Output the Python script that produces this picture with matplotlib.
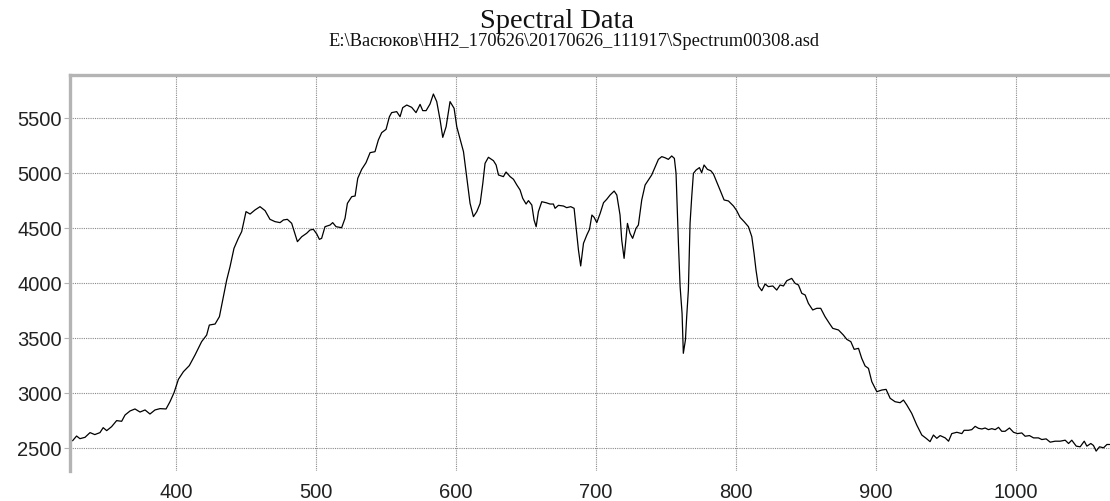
import matplotlib
matplotlib.use("Agg")
import matplotlib.pyplot as plt
import numpy as np

title = "Spectral Data"
subtitle = "E:\\Васюков\\HH2_170626\\20170626_111917\\Spectrum00308.asd"

wavelength = [
    326.2, 329.0, 331.4, 335.0, 338.6, 342.0, 345.7, 348.0, 350.5, 354.0,
    357.6, 361.2, 363.6, 367.2, 370.7, 374.3, 377.9, 381.4, 385.0, 388.6,
    392.9, 395.7, 398.6, 401.7, 405.3, 409.5, 413.6, 418.3, 421.9, 423.8,
    427.9, 431.0, 433.8, 436.2, 438.6, 441.4, 444.5, 446.9, 450.0, 452.9,
    456.4,
    460.0, 463.6, 467.1, 470.7, 474.3, 476.7, 479.5, 482.6, 484.5, 486.7,
    489.8, 493.3, 495.7, 498.1, 500.5, 502.4, 504.0, 506.4, 510.0, 511.9,
    514.3, 518.3, 520.7, 522.4, 525.5, 527.9, 529.8, 532.6, 535.7, 538.6,
    542.1, 544.5, 546.9, 550.0, 552.4, 554.0, 557.6, 560.0, 561.9, 564.8,
    568.3, 571.4, 574.3, 576.2, 578.6, 581.4, 583.8, 586.2,
    588.6, 590.5, 592.9, 595.7, 598.6, 600.5, 603.4, 605.3, 607.6, 610.0,
    612.4, 614.8, 617.2, 619.1, 620.7, 623.1, 626.7, 628.6, 630.3, 633.8,
    635.7, 638.6, 641.0, 643.4, 645.7, 647.6, 650.0, 651.7, 654.1, 655.7,
    657.2, 658.8, 661.2, 664.3, 667.1, 669.5, 670.7, 673.1, 676.7, 679.0,
    681.9, 684.3, 685.7, 687.4, 689.0, 691.0, 693.4, 695.3, 697.0, 698.6,
    700.5, 702.9, 705.3, 707.6, 710.0, 712.9, 714.8,
    717.1, 718.3, 720.0, 722.4, 724.2, 726.1, 728.5, 730.2, 732.6, 735.0,
    737.3, 739.7, 742.1, 744.5, 746.9, 749.2, 751.6, 754.0, 755.9, 757.1,
    758.8, 760.0, 761.4, 762.3, 763.8, 764.7, 765.9, 767.1, 768.3, 769.5,
    771.4, 773.8, 775.4, 777.1, 779.5, 781.9, 783.8, 786.1, 788.5, 791.4,
    794.5, 798.1, 800.4, 802.8, 805.7, 808.8, 811.2, 812.8, 814.2, 815.9,
    818.3, 820.7, 823.0, 826.2, 829.0,
    831.4, 833.8, 836.2, 839.7, 842.1, 844.5, 846.9, 849.3, 851.6, 854.7,
    857.6, 860.4, 863.5, 866.6, 869.0, 873.1, 876.6, 879.0, 881.9, 884.3,
    887.4, 889.7, 892.1, 894.5, 896.9, 900.5, 904.0, 907.1, 910.0, 913.5,
    917.1, 919.5, 921.9, 925.4, 929.0, 932.6, 935.7, 938.5, 940.9, 943.3,
    945.7, 949.3, 951.7, 954.0, 957.6, 961.2, 962.8, 965.9, 968.3, 970.7,
    973.1, 975.5, 977.8, 980.2, 982.6, 985.0, 987.4, 989.7, 992.1, 995.2,
    998.1, 1000.9, 1004.0, 1006.4, 1009.5, 1012.4, 1015.9, 1018.3, 1021.4, 1024.3,
    1027.8, 1031.4, 1035.0, 1037.4, 1039.7, 1042.9, 1045.7, 1048.6, 1050.5, 1053.3,
    1055.2, 1057.1, 1059.5, 1062.4, 1064.8, 1067.1,
]

signal = [
    2570, 2612, 2588, 2600, 2643, 2625, 2643, 2688, 2661, 2697,
    2752, 2746, 2803, 2840, 2858, 2830, 2849, 2812, 2849, 2861,
    2858, 2924, 3006, 3127, 3197, 3252, 3349, 3470, 3530, 3621,
    3630, 3697, 3879, 4030, 4152, 4318, 4409, 4470, 4652, 4630,
    4667,
    4697, 4661, 4582, 4561, 4552, 4576, 4582, 4546, 4470, 4379,
    4424, 4455, 4485, 4491, 4449, 4400, 4409, 4515, 4530, 4552,
    4515, 4506, 4591, 4727, 4788, 4794, 4955, 5036, 5097, 5188,
    5197, 5303, 5370, 5400, 5515, 5552, 5561, 5515, 5597, 5621,
    5600, 5552, 5627, 5570, 5570, 5630, 5721, 5652,
    5485, 5327, 5424, 5652, 5591, 5424, 5288, 5197, 4970, 4727,
    4606, 4652, 4727, 4909, 5091, 5146, 5115, 5076, 4985, 4970,
    5012, 4970, 4946, 4894, 4849, 4773, 4721, 4752, 4712, 4576,
    4515, 4652, 4742, 4733, 4721, 4721, 4682, 4709, 4703, 4688,
    4697, 4682, 4515, 4303, 4158, 4364, 4440, 4491, 4621, 4600,
    4552, 4636, 4733, 4764, 4803, 4839, 4803,
    4621, 4394, 4227, 4545, 4455, 4409, 4500, 4530, 4758, 4894,
    4939, 4985, 5055, 5127, 5152, 5142, 5127, 5158, 5136, 5000,
    4364, 3970, 3727, 3364, 3485, 3697, 3939, 4545, 4788, 5000,
    5030, 5052, 5006, 5076, 5036, 5024, 4994, 4924, 4849, 4758,
    4749, 4703, 4661, 4600, 4561, 4515, 4424, 4273, 4121, 3976,
    3933, 3994, 3970, 3976, 3939,
    3985, 3976, 4024, 4045, 4000, 3985, 3909, 3894, 3818, 3758,
    3773, 3773, 3697, 3636, 3591, 3576, 3530, 3491, 3470, 3400,
    3409, 3318, 3249, 3227, 3106, 3015, 3030, 3036, 2955, 2924,
    2915, 2939, 2894, 2818, 2712, 2621, 2591, 2561, 2621, 2591,
    2616, 2595, 2565, 2634, 2646, 2634, 2664, 2664, 2670, 2700,
    2682, 2676, 2685, 2670, 2679, 2670, 2691, 2655, 2655, 2685,
    2646, 2634, 2640, 2610, 2616, 2595, 2595, 2580, 2586, 2556,
    2565, 2565, 2574, 2544, 2574, 2520, 2514, 2565, 2520, 2544,
    2526, 2475, 2514, 2505, 2535, 2535,
]

x_ticks = [400, 500, 600, 700, 800, 900, 1000]
y_ticks = [2500, 3000, 3500, 4000, 4500, 5000, 5500]
x_range = (324.3, 1067.0)
y_range = (2294, 5894)

W, H = 1110, 501
fig = plt.figure(figsize=(W / 100, H / 100), dpi=100)
fig.patch.set_facecolor("white")
ax = fig.add_axes([70 / W, 1 - 471 / H, (W - 70) / W, (471 - 75) / H])

ax.plot(wavelength, signal, color="black", linewidth=0.9)
ax.set_xlim(*x_range)
ax.set_ylim(*y_range)
ax.set_xticks(x_ticks)
ax.set_yticks(y_ticks)
ax.set_xticklabels([str(v) for v in x_ticks])
ax.set_yticklabels([str(v) for v in y_ticks])

ax.grid(True, linestyle=(0, (1, 1)), color="#8a8a8a", linewidth=0.8)
ax.set_axisbelow(True)

for s in ["right", "bottom"]:
    ax.spines[s].set_visible(False)
for s in ["left", "top"]:
    ax.spines[s].set_color("#b4b4b4")
    ax.spines[s].set_linewidth(2.4)

for lab in ax.get_xticklabels() + ax.get_yticklabels():
    lab.set_fontfamily("Liberation Sans")
    lab.set_fontsize(14.5)
    lab.set_color("#222222")
ax.tick_params(axis="y", length=4, width=0.8, color="#b4b4b4", pad=2)
ax.tick_params(axis="x", length=0, pad=9)

fig.text(557 / W, 1 - 21 / H, title, ha="center", va="center",
         fontfamily="Liberation Serif", fontsize=20.5, color="#111111")
fig.text(574 / W, 1 - 42 / H, subtitle, ha="center", va="center",
         fontfamily="Liberation Serif", fontsize=13.3, color="#111111")

fig.savefig("out.png", dpi=100, facecolor="white")
